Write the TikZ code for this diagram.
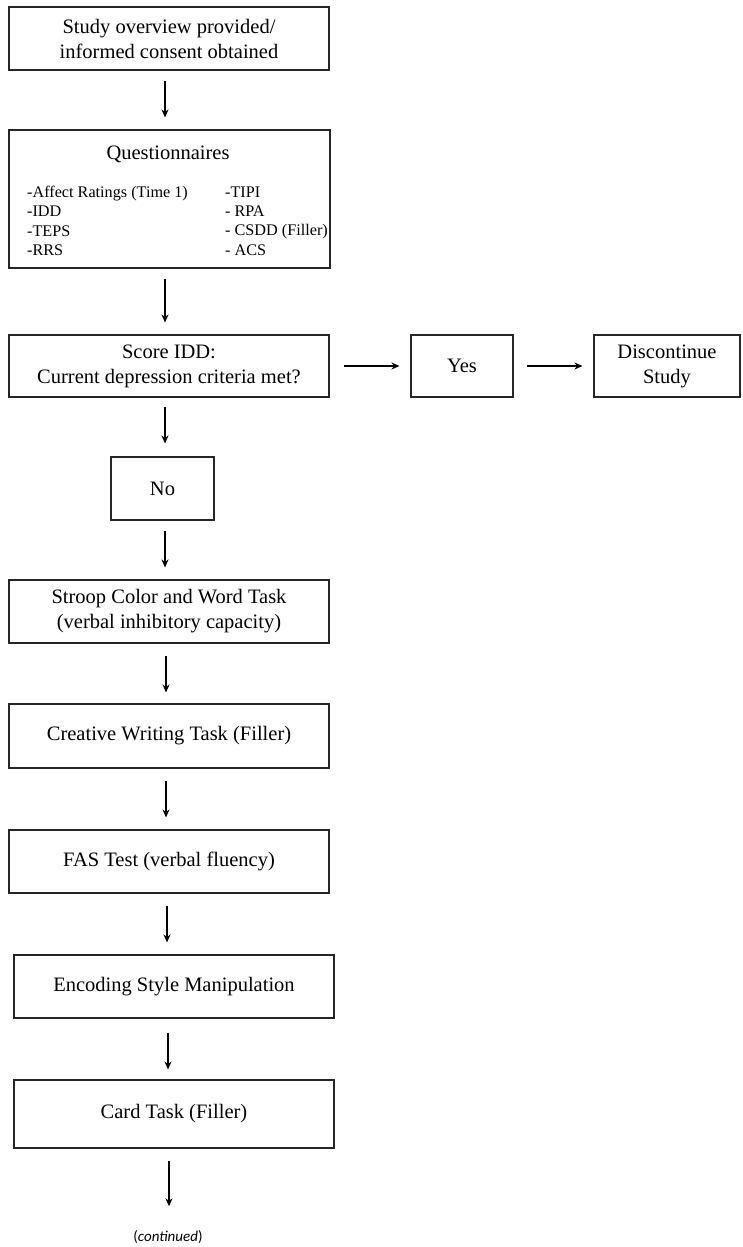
\documentclass[tikz,border=0pt]{standalone}
\usepackage{fontspec}
\setmainfont{Liberation Serif}
\newfontfamily\calfont{Carlito}
\usetikzlibrary{arrows.meta}

\begin{document}
\begin{tikzpicture}[x=1pt,y=-1pt,
  box/.style={draw=black!85, line width=1.1pt, align=center, inner sep=0pt,
    font=\fontsize{20.5}{25}\selectfont},
  listcol/.style={anchor=west, align=left, inner sep=0pt,
    font=\fontsize{16.2}{19.3}\selectfont},
  arr/.style={-{Stealth[length=8pt,width=7pt]}, line width=1.1pt}]
\useasboundingbox (0,0) rectangle (742,1247);

\node[box, minimum width=320pt, minimum height=63pt] (ovw) at (169,38.5) {Study overview provided/\\informed consent obtained};

\node[box, minimum width=321pt, minimum height=138pt] (quest) at (169.5,199) {};
\node[inner sep=0pt, font=\fontsize{20.5}{25}\selectfont] (qtitle) at (168,154) {Questionnaires};
\node[listcol] (qleft) at (27,221) {-Affect Ratings (Time 1)\\-IDD\\-TEPS\\-RRS};
\node[listcol] (qright) at (225,221) {-TIPI\\- RPA\\- CSDD (Filler)\\- ACS};

\node[box, minimum width=320pt, minimum height=62pt] (score) at (169,366) {Score IDD:\\Current depression criteria met?};
\node[box, minimum width=102pt, minimum height=62pt] (yes) at (462,366) {Yes};
\node[box, minimum width=146pt, minimum height=62pt] (stop) at (667,366) {Discontinue\\Study};

\node[box, minimum width=103pt, minimum height=63pt] (no) at (162.5,488.5) {No};

\node[box, minimum width=320pt, minimum height=63pt] (stroop) at (169,611.5) {Stroop Color and Word Task\\(verbal inhibitory capacity)};
\node[box, minimum width=320pt, minimum height=64pt] (write) at (169,736) {Creative Writing Task (Filler)};
\node[box, minimum width=320pt, minimum height=63pt] (fas) at (169,861.5) {FAS Test (verbal fluency)};
\node[box, minimum width=320pt, minimum height=63pt] (encode) at (174,986.5) {Encoding Style Manipulation};
\node[box, minimum width=320pt, minimum height=68pt] (card) at (174,1114) {Card Task (Filler)};

\node[inner sep=0pt, font=\calfont\fontsize{15}{17}\selectfont] (cont) at (168,1237) {(\textit{continued})};

% down the left column
\draw[arr, shorten <=10pt, shorten >=12pt] ([xshift=-4pt]ovw.south) -- ([xshift=-4pt]ovw.south |- quest.north);
\draw[arr, shorten <=10pt, shorten >=12pt] ([xshift=-4.5pt]quest.south) -- ([xshift=-4.5pt]quest.south |- score.north);
\draw[arr, shorten <=9pt, shorten >=13pt] ([xshift=-4pt]score.south) -- ([xshift=-4pt]score.south |- no.north);
\draw[arr, shorten <=10pt, shorten >=12pt] ([xshift=2.5pt]no.south) -- ([xshift=2.5pt]no.south |- stroop.north);
\draw[arr, shorten <=12pt, shorten >=11pt] ([xshift=-3pt]stroop.south) -- ([xshift=-3pt]stroop.south |- write.north);
\draw[arr, shorten <=12pt, shorten >=12pt] ([xshift=-3pt]write.south) -- ([xshift=-3pt]write.south |- fas.north);
\draw[arr, shorten <=12pt, shorten >=12pt] ([xshift=-2pt]fas.south) -- ([xshift=-2pt]fas.south |- encode.north);
\draw[arr, shorten <=14pt, shorten >=10pt] ([xshift=-6pt]encode.south) -- ([xshift=-6pt]encode.south |- card.north);
\draw[arr, shorten <=12pt, shorten >=24pt] ([xshift=-5pt]card.south) -- ([xshift=-5pt]card.south |- cont.north);

% yes branch
\draw[arr, shorten <=14pt, shorten >=11pt] (score.east) -- (yes.west);
\draw[arr, shorten <=13pt, shorten >=11pt] (yes.east) -- (stop.west);
\end{tikzpicture}
\end{document}
